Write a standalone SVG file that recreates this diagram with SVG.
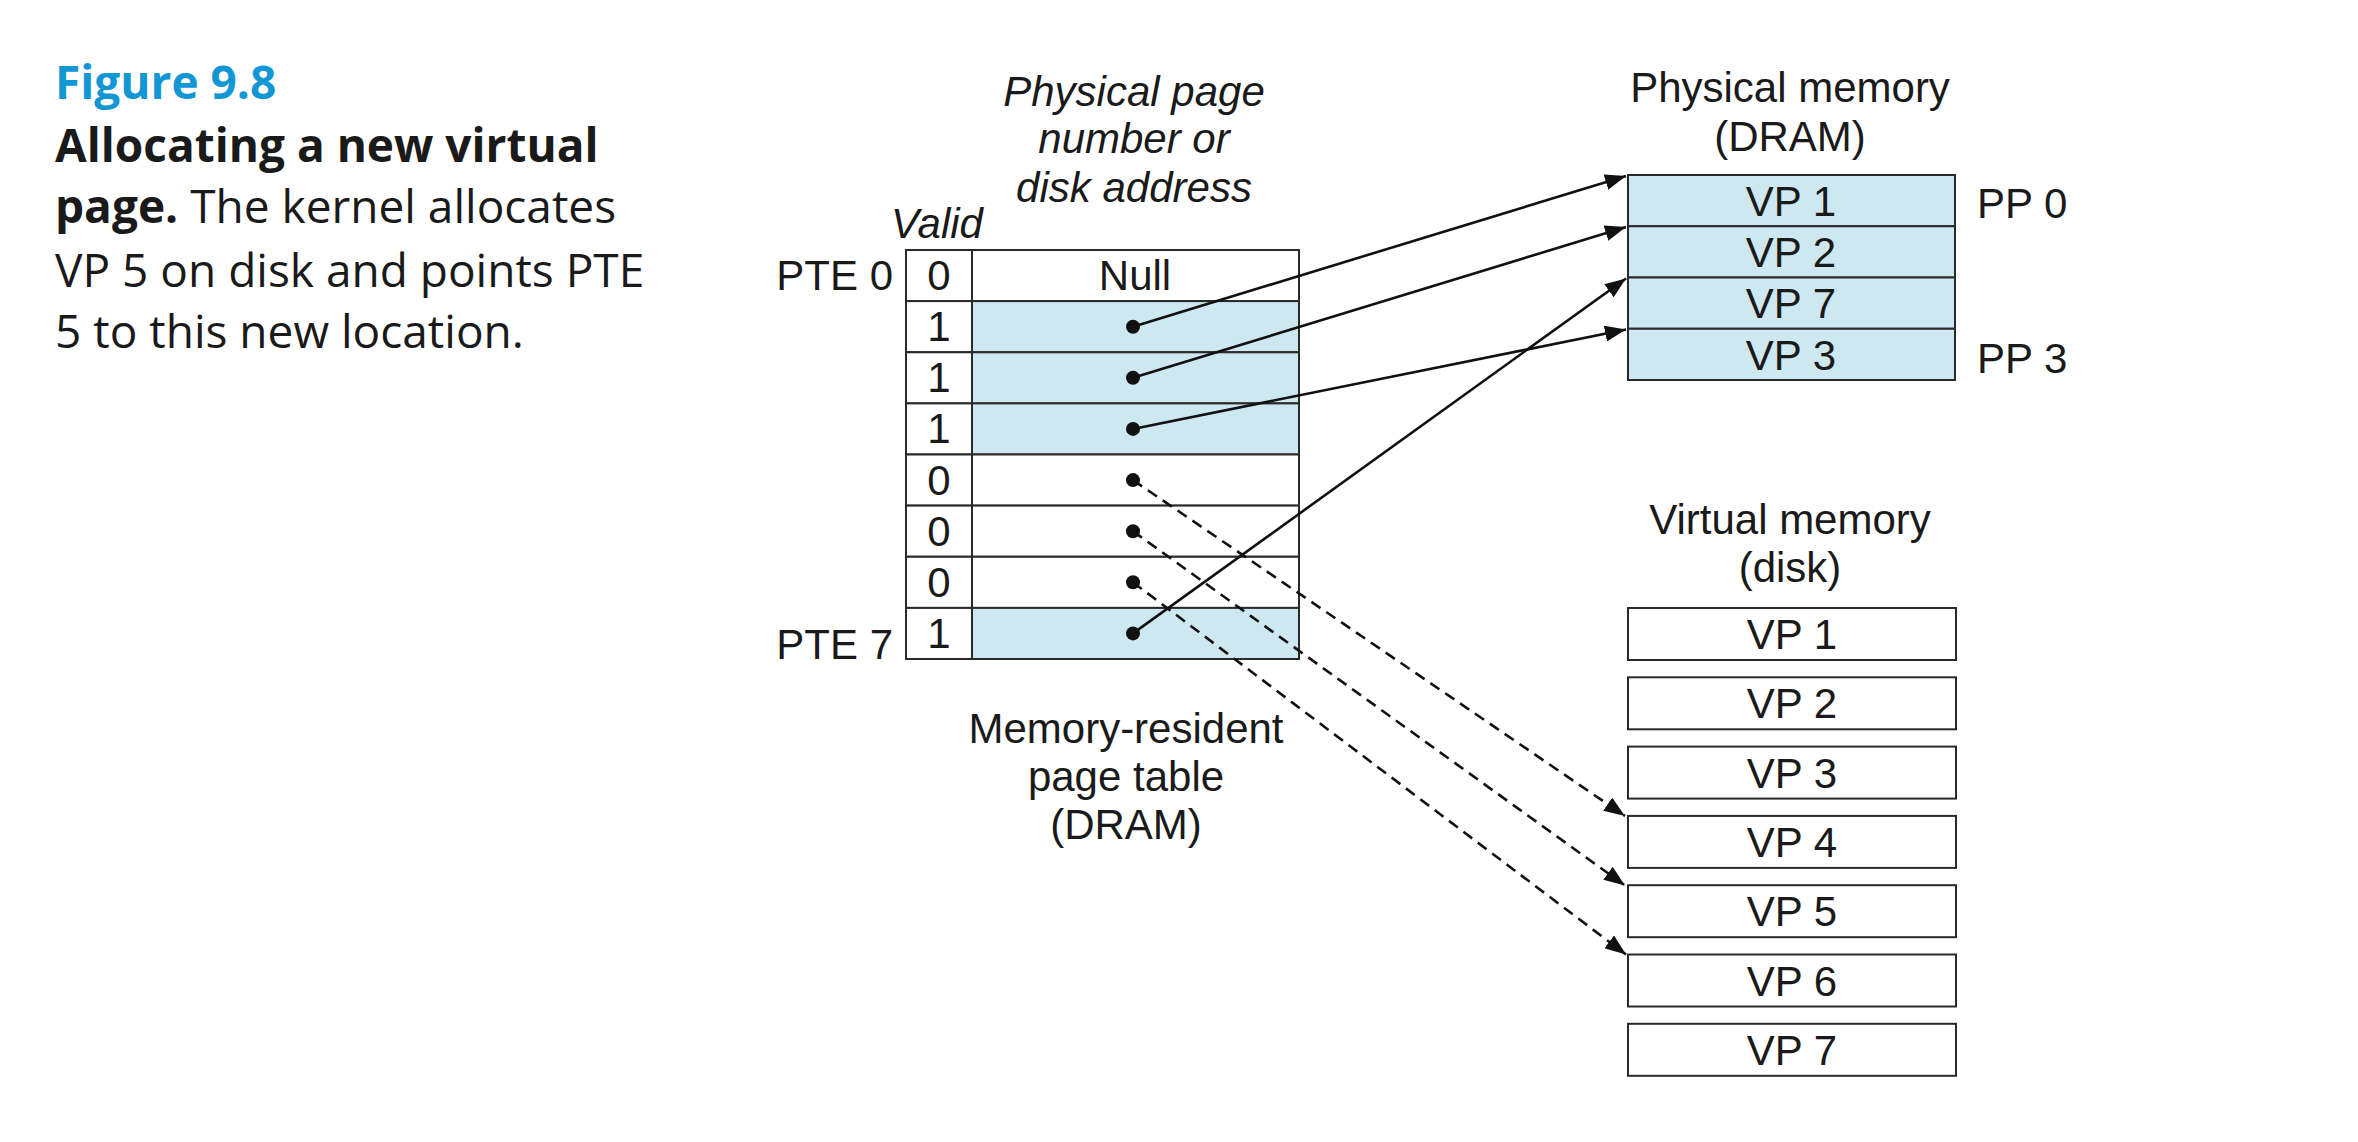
<svg xmlns="http://www.w3.org/2000/svg" width="2358" height="1142" viewBox="0 0 2358 1142">
<defs>
<style>
.lbl{font-family:"Liberation Sans",Arial,Helvetica,sans-serif;font-size:42px;fill:#1a1a1a}
.it{font-style:italic}
.mid{text-anchor:middle}
.end{text-anchor:end}
.cell{fill:#fff;stroke:#2a2a2a;stroke-width:2}
.blue{fill:#cde8f1;stroke:#2a2a2a;stroke-width:2}
.cap{font-family:"Open Sans","Noto Sans",sans-serif;font-size:46px;fill:#1a1a1a}
.fig{font-family:"Open Sans","Noto Sans",sans-serif;font-size:46px;font-weight:bold;fill:#1396d4}
.solid{fill:none;stroke:#111;stroke-width:2.6}
.dash{fill:none;stroke:#111;stroke-width:2.6;stroke-dasharray:11 7}
.dot{fill:#111}
</style>
<marker id="ah" markerUnits="userSpaceOnUse" markerWidth="22" markerHeight="16" refX="21" refY="8" orient="auto">
<path d="M0,0 L21,8 L0,16 z" fill="#111"/>
</marker>
</defs>
<rect width="2358" height="1142" fill="#fff"/>

<g id="caption">
<text class="fig" x="55" y="99">Figure 9.8</text>
<text class="cap" x="55" y="162" font-weight="bold">Allocating a new virtual</text>
<text class="cap" x="55" y="223"><tspan font-weight="bold">page.</tspan> The kernel allocates</text>
<text class="cap" x="55" y="287">VP 5 on disk and points PTE</text>
<text class="cap" x="55" y="348">5 to this new location.</text>
</g>

<g id="page-table">
<text class="lbl it mid" x="1134" y="106">Physical page</text>
<text class="lbl it mid" x="1134" y="153">number or</text>
<text class="lbl it mid" x="1134" y="202">disk address</text>
<text class="lbl it mid" x="937" y="238">Valid</text>
<text class="lbl end" x="893" y="290">PTE 0</text>
<text class="lbl end" x="893" y="659">PTE 7</text>
<g id="pte0"><rect class="cell" x="906" y="250" width="66" height="51.1"/><rect class="cell" x="972" y="250" width="327" height="51.1"/><text class="lbl mid" x="939" y="290">0</text><text class="lbl mid" x="1135" y="290">Null</text></g>
<g id="pte1"><rect class="cell" x="906" y="301.1" width="66" height="51.1"/><rect class="blue" x="972" y="301.1" width="327" height="51.1"/><text class="lbl mid" x="939" y="341">1</text></g>
<g id="pte2"><rect class="cell" x="906" y="352.3" width="66" height="51.1"/><rect class="blue" x="972" y="352.3" width="327" height="51.1"/><text class="lbl mid" x="939" y="392">1</text></g>
<g id="pte3"><rect class="cell" x="906" y="403.4" width="66" height="51.1"/><rect class="blue" x="972" y="403.4" width="327" height="51.1"/><text class="lbl mid" x="939" y="443">1</text></g>
<g id="pte4"><rect class="cell" x="906" y="454.5" width="66" height="51.1"/><rect class="cell" x="972" y="454.5" width="327" height="51.1"/><text class="lbl mid" x="939" y="495">0</text></g>
<g id="pte5"><rect class="cell" x="906" y="505.6" width="66" height="51.1"/><rect class="cell" x="972" y="505.6" width="327" height="51.1"/><text class="lbl mid" x="939" y="546">0</text></g>
<g id="pte6"><rect class="cell" x="906" y="556.8" width="66" height="51.1"/><rect class="cell" x="972" y="556.8" width="327" height="51.1"/><text class="lbl mid" x="939" y="597">0</text></g>
<g id="pte7"><rect class="cell" x="906" y="607.9" width="66" height="51.1"/><rect class="blue" x="972" y="607.9" width="327" height="51.1"/><text class="lbl mid" x="939" y="648">1</text></g>
<text class="lbl mid" x="1126" y="743">Memory-resident</text>
<text class="lbl mid" x="1126" y="791">page table</text>
<text class="lbl mid" x="1126" y="839">(DRAM)</text>
</g>

<g id="physical-memory">
<text class="lbl mid" x="1790" y="102">Physical memory</text>
<text class="lbl mid" x="1790" y="151">(DRAM)</text>
<g id="pp0"><rect class="blue" x="1628" y="175" width="327" height="51.25"/><text class="lbl mid" x="1791" y="216">VP 1</text></g>
<g id="pp1"><rect class="blue" x="1628" y="226.25" width="327" height="51.25"/><text class="lbl mid" x="1791" y="267">VP 2</text></g>
<g id="pp2"><rect class="blue" x="1628" y="277.5" width="327" height="51.25"/><text class="lbl mid" x="1791" y="318">VP 7</text></g>
<g id="pp3"><rect class="blue" x="1628" y="328.75" width="327" height="51.25"/><text class="lbl mid" x="1791" y="370">VP 3</text></g>
<text class="lbl" x="1977" y="218">PP 0</text>
<text class="lbl" x="1977" y="373">PP 3</text>
</g>

<g id="virtual-memory">
<text class="lbl mid" x="1790" y="534">Virtual memory</text>
<text class="lbl mid" x="1790" y="582">(disk)</text>
<g id="vp1"><rect class="cell" x="1628" y="608" width="328" height="52"/><text class="lbl mid" x="1792" y="649">VP 1</text></g>
<g id="vp2"><rect class="cell" x="1628" y="677.3" width="328" height="52"/><text class="lbl mid" x="1792" y="718.3">VP 2</text></g>
<g id="vp3"><rect class="cell" x="1628" y="746.6" width="328" height="52"/><text class="lbl mid" x="1792" y="787.6">VP 3</text></g>
<g id="vp4"><rect class="cell" x="1628" y="815.9" width="328" height="52"/><text class="lbl mid" x="1792" y="856.9">VP 4</text></g>
<g id="vp5"><rect class="cell" x="1628" y="885.2" width="328" height="52"/><text class="lbl mid" x="1792" y="926.2">VP 5</text></g>
<g id="vp6"><rect class="cell" x="1628" y="954.5" width="328" height="52"/><text class="lbl mid" x="1792" y="995.5">VP 6</text></g>
<g id="vp7"><rect class="cell" x="1628" y="1023.8" width="328" height="52"/><text class="lbl mid" x="1792" y="1064.8">VP 7</text></g>
</g>

<g id="connectors">
<line class="solid" x1="1133" y1="326.7" x2="1626" y2="176" marker-end="url(#ah)"/>
<line class="solid" x1="1133" y1="377.8" x2="1626" y2="227" marker-end="url(#ah)"/>
<line class="solid" x1="1133" y1="428.9" x2="1626" y2="329.5" marker-end="url(#ah)"/>
<line class="solid" x1="1133" y1="633.4" x2="1626" y2="278.5" marker-end="url(#ah)"/>
<line class="dash" x1="1133" y1="480.1" x2="1625" y2="816" marker-end="url(#ah)"/>
<line class="dash" x1="1133" y1="531.2" x2="1625" y2="885.5" marker-end="url(#ah)"/>
<line class="dash" x1="1133" y1="582.3" x2="1626" y2="954.5" marker-end="url(#ah)"/>
<circle class="dot" cx="1133" cy="326.7" r="7"/>
<circle class="dot" cx="1133" cy="377.8" r="7"/>
<circle class="dot" cx="1133" cy="428.9" r="7"/>
<circle class="dot" cx="1133" cy="480.1" r="7"/>
<circle class="dot" cx="1133" cy="531.2" r="7"/>
<circle class="dot" cx="1133" cy="582.3" r="7"/>
<circle class="dot" cx="1133" cy="633.4" r="7"/>
</g>
</svg>
